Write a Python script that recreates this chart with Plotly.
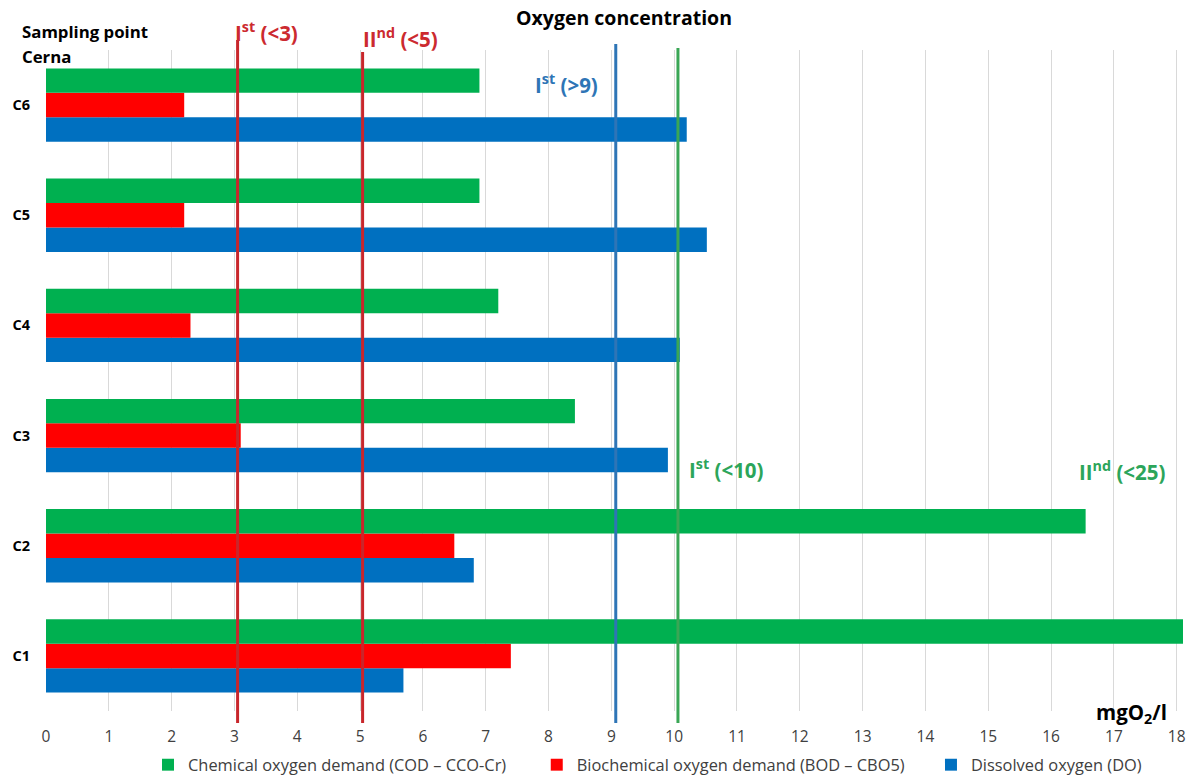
import plotly.graph_objects as go

categories = ["C1", "C2", "C3", "C4", "C5", "C6"]
cod = [18.1, 16.55, 8.42, 7.2, 6.9, 6.9]
bod = [7.4, 6.5, 3.1, 2.3, 2.2, 2.2]
do = [5.69, 6.81, 9.9, 10.09, 10.52, 10.2]

series_names = ["Chemical oxygen demand (COD – CCO-Cr)",
                "Biochemical oxygen demand (BOD – CBO5)",
                "Dissolved oxygen (DO)"]
series_colors = ["#00b050", "#ff0000", "#0070c0"]
legend_pad = [6, 5, 0]  # trailing spaces to mimic legend spacing

thresholds = [3.05, 5.04, 9.07, 10.06]
threshold_colors = ["#c8262b", "#c8262b", "#2e75b6", "#3aa655"]

x_ticks = list(range(0, 19))

FONT = "Open Sans"

fig = go.Figure()
# plotted bottom-to-top within each group: DO, BOD, COD
for idx, rank in [(2, 3), (1, 2), (0, 1)]:
    vals = [cod, bod, do][idx]
    fig.add_trace(go.Bar(y=categories, x=vals,
                         name=series_names[idx] + "\u00a0" * legend_pad[idx],
                         orientation="h",
                         marker=dict(color=series_colors[idx], line=dict(width=0)),
                         legendrank=rank))

TOP, BOT = 50, 711
H = float(BOT - TOP)
def py(p):
    return (BOT - p) / H

tops = [40, 52, 44, 48]
for t, c, top in zip(thresholds, threshold_colors, tops):
    fig.add_shape(type="line", xref="x", yref="paper", x0=t, x1=t,
                  y0=py(723), y1=py(top), line=dict(color=c, width=3), layer="above")

red = "#cc2a2f"
blue = "#2e75b6"
green = "#2ca55a"
anns = [
    dict(text="<b>Oxygen concentration</b>", x=623.5, y=18, size=19.5, color="#000000", xanchor="center"),
    dict(text="<b>Sampling point</b>", x=20, y=32, size=16.8, color="#000000", xanchor="left"),
    dict(text="<b>Cerna</b>", x=20, y=57, size=16.8, color="#000000", xanchor="left"),
    dict(text="<b>I<sup>st</sup> (<3)</b>", x=233, y=32, size=20.5, color=red, xanchor="left"),
    dict(text="<b>II<sup>nd</sup> (<5)</b>", x=361, y=38, size=20.5, color=red, xanchor="left"),
    dict(text="<b>I<sup>st</sup> (>9)</b>", x=533, y=84, size=20.5, color=blue, xanchor="left"),
    dict(text="<b>I<sup>st</sup> (<10)</b>", x=687, y=469, size=20.5, color=green, xanchor="left"),
    dict(text="<b>II<sup>nd</sup> (<25)</b>", x=1077, y=471, size=20.5, color=green, xanchor="left"),
    dict(text="<b>mgO<sub>2</sub>/l</b>", x=1169, y=713, size=20.5, color="#000000", xanchor="right"),
]
for a in anns:
    fig.add_annotation(text=a["text"], x=(a["x"] - 46) / 1137, xref="paper", y=py(a["y"]), yref="paper",
                       xanchor=a["xanchor"], yanchor="middle", showarrow=False,
                       font=dict(family=FONT, size=a["size"], color=a["color"]))

fig.update_layout(
    width=1196, height=778,
    margin=dict(l=46, r=13, t=TOP, b=778 - BOT, autoexpand=False),
    paper_bgcolor="white", plot_bgcolor="white",
    barmode="group", bargap=0.334, bargroupgap=0,
    font=dict(family=FONT, color="#404040"),
    showlegend=True,
    legend=dict(orientation="h", x=(148 - 46) / 1137, xanchor="left", y=py(765), yanchor="middle",
                font=dict(family=FONT, size=16.4, color="#404040"), traceorder="normal",
                itemwidth=30),
    xaxis=dict(range=[0, 18.1], tickvals=x_ticks, ticktext=[str(v) for v in x_ticks],
               showgrid=True, gridcolor="#d9d9d9", gridwidth=1, zeroline=False,
               showline=False, ticks="", tickfont=dict(size=15.5, color="#404040"),
               ticklabelstandoff=14, fixedrange=True, automargin=False),
    yaxis=dict(categoryorder="array", categoryarray=categories, showgrid=False,
               zeroline=False, showline=False, ticks="", automargin=False,
               tickfont=dict(size=14.5, color="#000000", weight="bold"), ticklabelstandoff=15),
)

fig.write_html("out.html", config={"displayModeBar": False},
               post_script="document.body.style.margin='0';")
